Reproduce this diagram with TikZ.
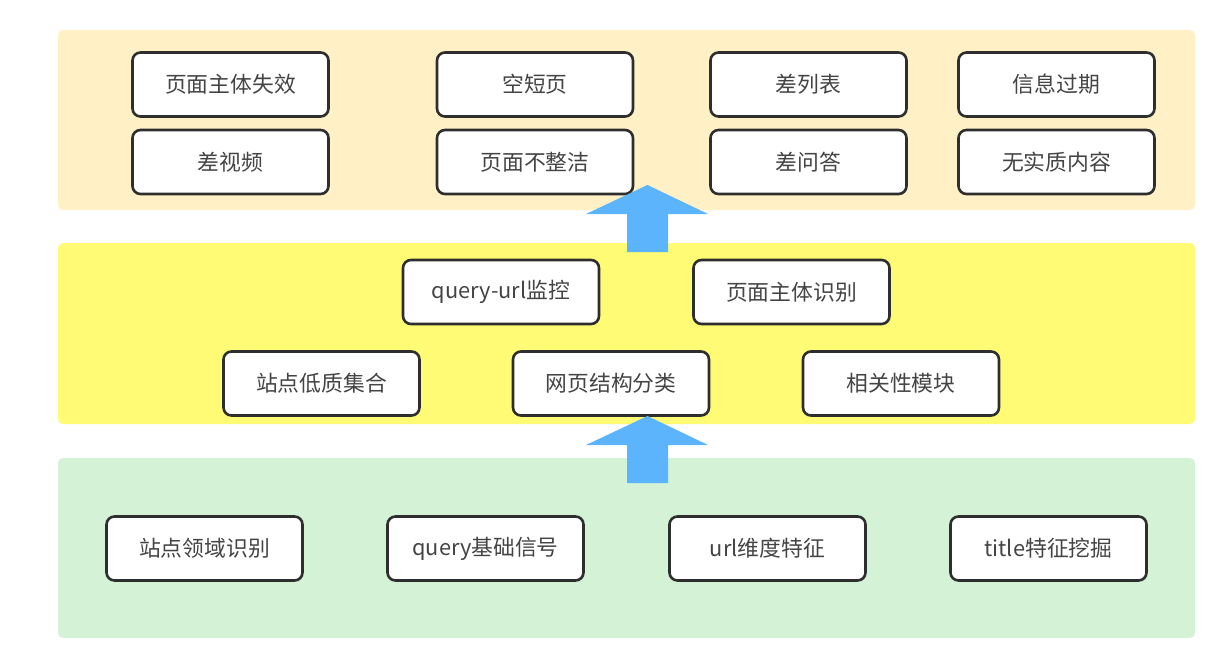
\documentclass[tikz,border=0pt]{standalone}
\usepackage{fontspec}
\setmainfont{Noto Sans CJK SC}
\definecolor{panelTop}{HTML}{FFF0C6}
\definecolor{panelMid}{HTML}{FFFB74}
\definecolor{panelBot}{HTML}{D4F2D6}
\definecolor{arrowBlue}{HTML}{5CB5FC}
\definecolor{boxLine}{HTML}{2E2E2E}
\definecolor{txt}{HTML}{444444}
\begin{document}
\begin{tikzpicture}[x=1pt,y=-1pt,
  panel/.style={rounded corners=5pt},
  item/.style={draw=boxLine, line width=2.6pt, fill=white, rounded corners=8pt,
    minimum width=196pt, minimum height=64pt, inner sep=0pt,
    text=txt, font=\fontsize{21.8}{26}\selectfont},
  blockarrow/.style={fill=arrowBlue}]
\useasboundingbox (0,0) rectangle (1229,658);

% layer backgrounds
\fill[panel, panelTop] (58,30) rectangle (1195,210);
\fill[panel, panelMid] (58,243) rectangle (1195,424);
\fill[panel, panelBot] (58,458) rectangle (1195,638);

% upper layer: quality categories
\node[item] (t1) at (230.5,84.5) {页面主体失效};
\node[item] (t2) at (535,84.5) {空短页};
\node[item] (t3) at (808.5,84.5) {差列表};
\node[item] (t4) at (1056.5,84.5) {信息过期};
\node[item] (t5) at (230.5,162) {差视频};
\node[item] (t6) at (535,162) {页面不整洁};
\node[item] (t7) at (808.5,162) {差问答};
\node[item] (t8) at (1056.5,162) {无实质内容};

% middle layer: modules
\node[item] (m1) at (501,292) {query-url监控};
\node[item] (m2) at (791.5,292) {页面主体识别};
\node[item] (m3) at (321.5,383.5) {站点低质集合};
\node[item] (m4) at (611,383.5) {网页结构分类};
\node[item] (m5) at (901,383.5) {相关性模块};

% lower layer: base features
\node[item] (b1) at (204.5,548.5) {站点领域识别};
\node[item] (b2) at (485.5,548.5) {query基础信号};
\node[item] (b3) at (767.5,548.5) {url维度特征};
\node[item] (b4) at (1048.5,548.5) {title特征挖掘};

% block arrows between layers
\fill[blockarrow] (627,252) -- (627,214) -- (586,214) -- (647.5,185)
  -- (708,214) -- (668,214) -- (668,252) -- cycle;
\fill[blockarrow] (627,483) -- (627,445) -- (586,445) -- (647.5,416)
  -- (708,445) -- (668,445) -- (668,483) -- cycle;
\end{tikzpicture}
\end{document}
